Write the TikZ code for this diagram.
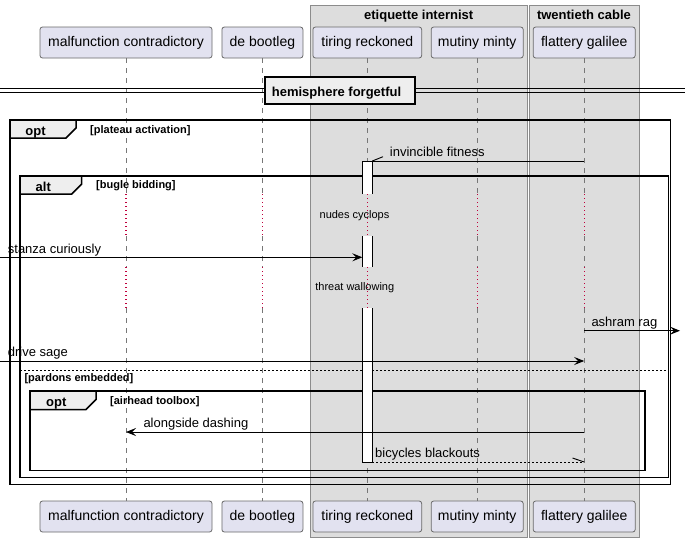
\documentclass[tikz,border=0pt]{standalone}
\usepackage{fontspec}
\setmainfont{Liberation Sans}
\usetikzlibrary{arrows.meta}
\definecolor{partfill}{HTML}{E2E2F0}
\definecolor{partline}{HTML}{6A6A6A}
\definecolor{grpfill}{HTML}{DDDDDD}
\definecolor{grpline}{HTML}{8C8C8C}
\definecolor{lifec}{HTML}{777777}
\definecolor{delayc}{HTML}{C0003C}
\definecolor{tabfill}{HTML}{EEEEEE}
\tikzset{
 part/.style={draw=partline, fill=partfill, rounded corners=2.5pt, minimum height=31pt, inner sep=0pt, font=\fontsize{14}{16}\selectfont, line width=0.8pt},
 grp/.style={draw=grpline, fill=grpfill, line width=0.8pt},
 life/.style={draw=lifec, line width=0.8pt, dash pattern=on 5pt off 5pt},
 delayline/.style={draw=delayc, line width=1.2pt, dash pattern=on 1.2pt off 2.8pt},
 frm/.style={draw=black, line width=1.5pt},
 tabshape/.style={draw=black, fill=tabfill, line width=1.5pt},
 msg/.style={draw=black, line width=0.9pt},
 tipped/.style={-{Stealth[length=10pt,width=8pt,inset=4pt]}},
 mlabel/.style={anchor=base west, inner sep=0pt, font=\fontsize{13}{15}\selectfont},
 cond/.style={anchor=west, inner sep=0pt, font=\bfseries\fontsize{11}{13}\selectfont},
 tablabel/.style={anchor=base, inner sep=0pt, font=\bfseries\fontsize{13}{15}\selectfont},
 dlabel/.style={inner sep=0pt, font=\fontsize{11}{13}\selectfont},
 gtitle/.style={anchor=base, inner sep=0pt, font=\bfseries\fontsize{13}{15}\selectfont},
 actbox/.style={draw=black, fill=white, line width=0.9pt},
}
\begin{document}
\begin{tikzpicture}[x=1pt,y=-1pt]
\useasboundingbox[fill=white] (0,0) rectangle (686,542);
% groups
\path[grp] (310,5) rectangle (527.5,537);
\path[grp] (529,5) rectangle (639.3,537);
\node[gtitle] (g1t) at (418.7,19) {etiquette internist};
\node[gtitle] (g2t) at (584,19) {twentieth cable};
% y levels
\coordinate (yD1a) at (0,194);
\coordinate (yD1b) at (0,236);
\coordinate (yD2a) at (0,267);
\coordinate (yD2b) at (0,308);
% participants
\node[part, minimum width=172pt] (mT) at (126,42.5) {\raisebox{-1pt}{malfunction contradictory}};
\node[part, minimum width=81pt] (bT) at (262.4,42.5) {\raisebox{-1pt}{de bootleg}};
\node[part, minimum width=108.7pt] (tT) at (367.3,42.5) {\raisebox{-1pt}{tiring reckoned}};
\node[part, minimum width=92pt] (uT) at (477.2,42.5) {\raisebox{-1pt}{mutiny minty}};
\node[part, minimum width=102pt] (fT) at (584.2,42.5) {\raisebox{-1pt}{flattery galilee}};
\node[part, minimum width=172pt] (mB) at (126,516.5) {\raisebox{-1pt}{malfunction contradictory}};
\node[part, minimum width=81pt] (bB) at (262.4,516.5) {\raisebox{-1pt}{de bootleg}};
\node[part, minimum width=108.7pt] (tB) at (367.3,516.5) {\raisebox{-1pt}{tiring reckoned}};
\node[part, minimum width=92pt] (uB) at (477.2,516.5) {\raisebox{-1pt}{mutiny minty}};
\node[part, minimum width=102pt] (fB) at (584.2,516.5) {\raisebox{-1pt}{flattery galilee}};
% lifelines
\foreach \p in {m,b,t,u,f}{
 \draw[life] (\p T.south) -- (\p T.south |- yD1a);
 \draw[delayline] (\p T.south |- yD1a) -- (\p T.south |- yD1b);
 \draw[life] (\p T.south |- yD1b) -- (\p T.south |- yD2a);
 \draw[delayline] (\p T.south |- yD2a) -- (\p T.south |- yD2b);
 \draw[life] (\p T.south |- yD2b) -- (\p B.north);
}
% divider
\coordinate (dvL1) at (0,88.7);
\coordinate (dvR1) at (685,88.7);
\coordinate (dvL2) at (0,92.7);
\coordinate (dvR2) at (685,92.7);
\draw[black, line width=0.9pt] (dvL1) -- (dvR1) (dvL2) -- (dvR2);
\node[draw=black, fill=tabfill, line width=1.8pt, minimum width=150pt, minimum height=26.5pt, inner sep=0pt] (dvbox) at (340.3,90.6) {};
\node[anchor=base west, inner sep=0pt, font=\bfseries\fontsize{13}{15}\selectfont] (dvtext) at (271.7,96) {hemisphere forgetful};
% frames
\draw[frm] (10,120) rectangle (670.5,484.5);
\draw[tabshape] (10,120) -- (76,120) -- (76,128) -- (66,138) -- (10,138) -- cycle;
\node[tablabel] (opt1) at (35.5,135) {opt};
\node[cond] (c1) at (90,130.5) {[plateau activation]};
\draw[frm] (20,176) rectangle (668.3,477.6);
\draw[tabshape] (20,176) -- (81.7,176) -- (81.7,184) -- (71.7,194) -- (20,194) -- cycle;
\node[tablabel] (alt1) at (43.3,191) {alt};
\node[cond] (c2) at (96,185.5) {[bugle bidding]};
\draw[black, line width=0.8pt, dash pattern=on 2pt off 2pt] (20,370) -- (668.3,370);
\node[cond] (c3) at (24.3,378.7) {[pardons embedded]};
\draw[frm] (30,391) rectangle (645,470.6);
\draw[tabshape] (30,391) -- (96,391) -- (96,399.5) -- (86,409.5) -- (30,409.5) -- cycle;
\node[tablabel] (opt2) at (56.3,406.7) {opt};
\node[cond] (c4) at (110,402) {[airhead toolbox]};
% activation
\filldraw[actbox] (362.3,194) -- (362.3,161) -- (372.3,161) -- (372.3,194);
\fill[white] (362.3,236) rectangle (372.3,267);
\draw[black, line width=0.9pt] (362.3,236) -- (362.3,267) (372.3,236) -- (372.3,267);
\filldraw[actbox] (362.3,308) -- (362.3,462) -- (372.3,462) -- (372.3,308);
% delay labels
\node[dlabel] (dl1) at (354.5,216) {nudes cyclops};
\node[dlabel] (dl2) at (354.8,288) {threat wallowing};
% message endpoints
\coordinate (aR161) at (372.3,161);
\coordinate (f161) at (fT.south |- 0,161);
\coordinate (L257) at (0,257.3);
\coordinate (aL257) at (362.3,257.3);
\coordinate (f331) at (fT.south |- 0,330.7);
\coordinate (R331) at (680,330.7);
\coordinate (L361) at (0,361);
\coordinate (f361) at (fT.south |- 0,361);
\coordinate (f432) at (fT.south |- 0,432);
\coordinate (m432) at (mT.south |- 0,432);
\coordinate (aR462) at (372.3,462);
\coordinate (f462) at (fT.south |- 0,462);
% messages
\draw[msg] (f161) -- (aR161);
\draw[msg] (aR161) -- ++(10.7,-4.3);
\node[mlabel] (t1) at (389.7,156) {invincible fitness};
\draw[msg, tipped] (L257) -- (aL257);
\node[mlabel] (t2) at (7.7,253.5) {stanza curiously};
\draw[msg, tipped] (f331) -- (R331);
\node[mlabel] (t3) at (591.3,326.7) {ashram rag};
\draw[msg, tipped] (L361) -- (f361);
\node[mlabel] (t4) at (7.7,356) {drive sage};
\draw[msg, tipped] (f432) -- (m432);
\node[mlabel] (t5) at (143.3,427.3) {alongside dashing};
\draw[msg, dash pattern=on 2pt off 2pt] (aR462) -- (f462);
\draw[msg] (f462) -- ++(-11.7,-4);
\node[mlabel] (t6) at (375,457.7) {bicycles blackouts};
\end{tikzpicture}
\end{document}
